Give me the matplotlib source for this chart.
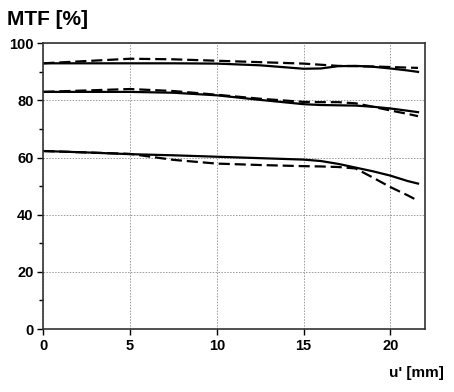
import matplotlib.pyplot as plt
import numpy as np

# image height u' [mm]
u = [0, 2.5, 5, 7.5, 10, 12.5, 15, 16, 17, 18, 19, 20, 21, 21.6]

# MTF curves (solid = sagittal, dashed = tangential), three frequencies
top_solid = [93.0, 93.0, 93.0, 93.0, 92.9, 92.3, 91.1, 91.2, 92.0, 92.1, 91.8, 91.2, 90.5, 90.0]
top_dash = [93.0, 93.8, 94.6, 94.4, 93.9, 93.4, 92.9, 92.5, 92.1, 92.0, 91.9, 91.7, 91.5, 91.4]
mid_solid = [83.0, 83.0, 83.0, 82.7, 81.8, 80.2, 78.7, 78.4, 78.3, 78.2, 77.8, 77.2, 76.4, 75.9]
mid_dash = [83.0, 83.5, 84.0, 83.3, 82.0, 80.6, 79.5, 79.4, 79.4, 79.0, 77.8, 76.5, 75.3, 74.5]
low_solid = [62.3, 61.8, 61.2, 60.8, 60.3, 59.8, 59.3, 58.8, 57.8, 56.5, 55.2, 53.7, 51.8, 50.9]
low_dash = [62.3, 61.8, 61.3, 59.2, 57.9, 57.4, 57.0, 56.9, 56.7, 56.2, 53.0, 49.7, 46.8, 44.9]

fig = plt.figure(figsize=(4.54, 3.92), dpi=100)
ax = fig.add_axes([0.0954, 0.1607, 0.8406, 0.7288])

for ys in (top_solid, mid_solid, low_solid):
    ax.plot(u, ys, color='black', lw=1.6, ls='-')
for ys in (top_dash, mid_dash, low_dash):
    ax.plot(u, ys, color='black', lw=1.6, ls=(0, (5, 2.2)))

ax.set_xlim(0, 22)
ax.set_ylim(0, 100)
ax.set_xticks([0, 5, 10, 15, 20])
ax.set_yticks([0, 20, 40, 60, 80, 100])
ax.set_yticks([10, 30, 50, 70, 90], minor=True)
ax.grid(True, which='major', color='#999999', ls=(0, (1.5, 1.5)), lw=0.7)

for s in ax.spines.values():
    s.set_color('#333333')
    s.set_linewidth(1.2)

ax.tick_params(axis='both', which='major', length=4, width=1, labelsize=10.5, pad=3)
ax.tick_params(axis='y', which='minor', length=3, width=1)
for lab in ax.get_xticklabels() + ax.get_yticklabels():
    lab.set_fontweight('bold')
    lab.set_family('Liberation Sans')

fig.text(0.015, 0.925, 'MTF [%]', fontsize=15, fontweight='bold', family='Liberation Sans', ha='left', va='bottom')
fig.text(0.978, 0.03, "u' [mm]", fontsize=11, fontweight='bold', family='Liberation Sans', ha='right', va='bottom')

fig.savefig('out.png', dpi=100)
